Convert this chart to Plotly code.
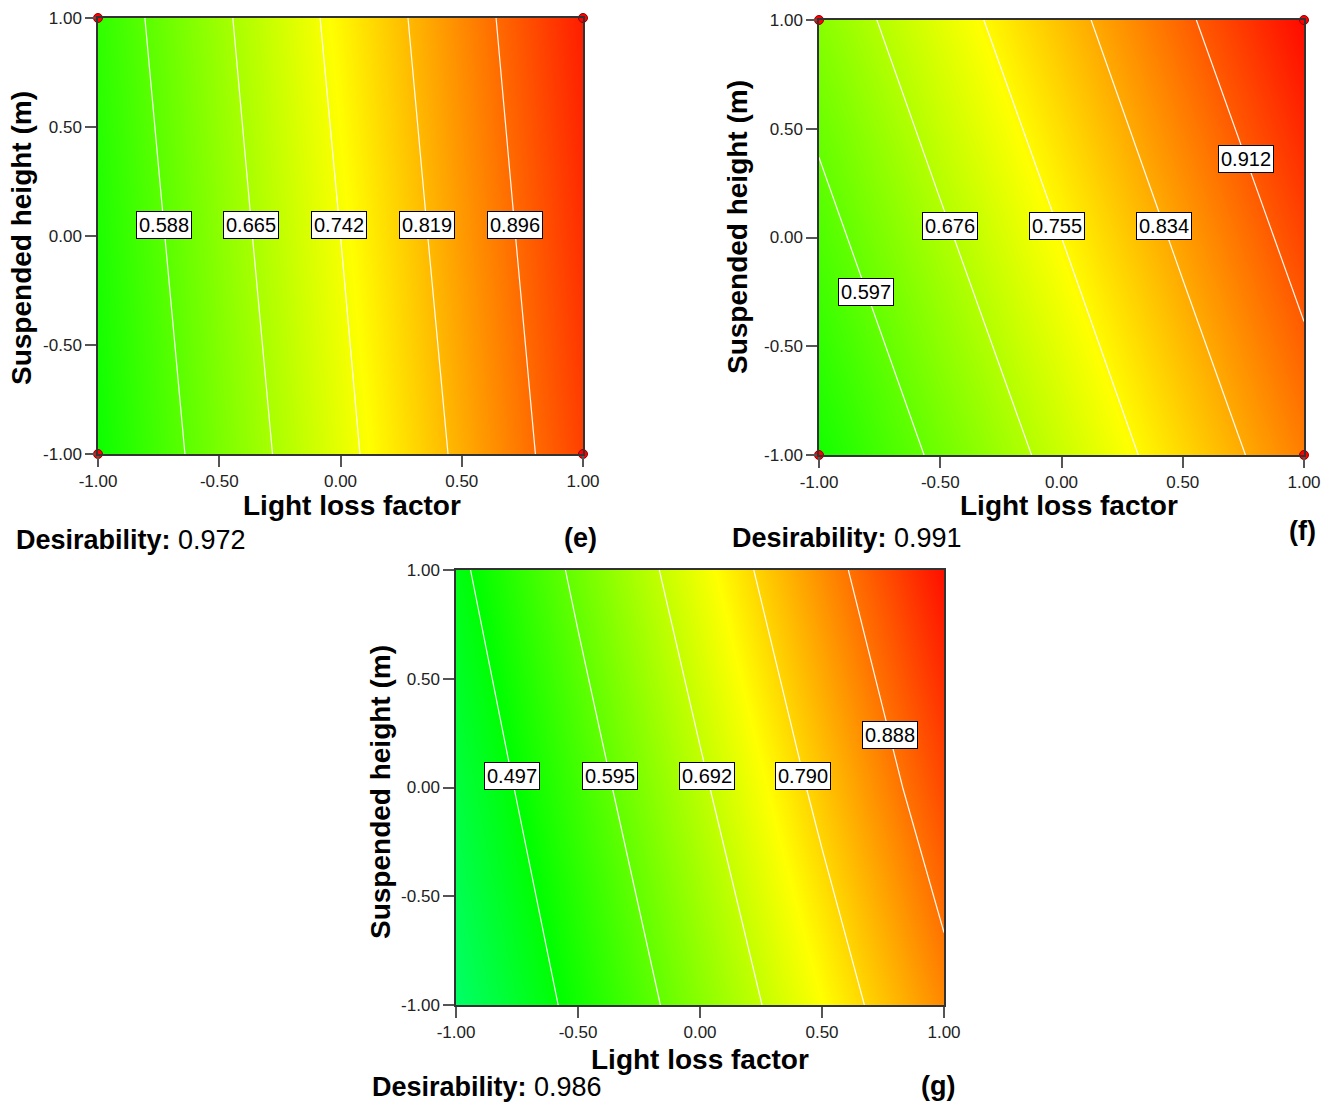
import numpy as np
import plotly.graph_objects as go

W, H = 1332, 1104

# ---------------- data ----------------
x_grid = [-1.0, -0.5, 0.0, 0.5, 1.0]          # Light loss factor (coded)
y_grid = [-1.0, 0.0, 1.0]                     # Suspended height (coded)
tick_vals = [-1.0, -0.5, 0.0, 0.5, 1.0]
tick_text = ["-1.00", "-0.50", "0.00", "0.50", "1.00"]

# desirability values on the grid (rows = y_grid, cols = x_grid)
z_e = [[0.512, 0.618, 0.725, 0.831, 0.938],
       [0.529, 0.636, 0.742, 0.849, 0.955],
       [0.547, 0.653, 0.760, 0.866, 0.972]]
z_f = [[0.519, 0.609, 0.698, 0.788, 0.877],
       [0.576, 0.666, 0.755, 0.845, 0.934],
       [0.633, 0.723, 0.812, 0.902, 0.991]]
z_g = [[0.399, 0.516, 0.633, 0.749, 0.867],
       [0.439, 0.561, 0.682, 0.806, 0.930],
       [0.482, 0.608, 0.734, 0.861, 0.986]]

levels_e = [0.588, 0.665, 0.742, 0.819, 0.896]
levels_f = [0.597, 0.676, 0.755, 0.834, 0.912]
levels_g = [0.497, 0.595, 0.692, 0.790, 0.888]

desirability_e = 0.972
desirability_f = 0.991
desirability_g = 0.986

design_x = [-1.0, 1.0, -1.0, 1.0]
design_y = [-1.0, -1.0, 1.0, 1.0]

panel_names = ["(e)", "(f)", "(g)"]

# ---------------- layout spec (pixel boxes) ----------------
FONT = "Arial, 'Liberation Sans', sans-serif"
colorscale = [[0.0, "#0000ff"], [0.25, "#00ffff"], [0.5, "#00ff00"],
              [0.75, "#ffff00"], [1.0, "#ff0000"]]

panels = [
    dict(z=z_e, levels=levels_e, des=desirability_e, name=panel_names[0],
         box=(98, 18, 583, 454), label_y=[0.05, 0.05, 0.05, 0.05, 0.05],
         design=True, xt=(352, 506), yt=(22, 238), dt=(14, 540), pt=(580, 538)),
    dict(z=z_f, levels=levels_f, des=desirability_f, name=panel_names[1],
         box=(819, 20, 1304, 455), label_y=[-0.25, 0.055, 0.055, 0.055, 0.36],
         design=True, xt=(1069, 506), yt=(738, 227), dt=(730, 538), pt=(1302, 531)),
    dict(z=z_g, levels=levels_g, des=desirability_g, name=panel_names[2],
         box=(456, 570, 944, 1005), label_y=[0.055, 0.055, 0.055, 0.055, 0.24],
         design=False, xt=(700, 1059), yt=(380, 792), dt=(370, 1087), pt=(938, 1086)),
]


def px(x):
    return x / W


def py(y):
    return 1 - y / H


fig = go.Figure()
annotations = []
layout_axes = {}

for i, p in enumerate(panels, start=1):
    xa = "x" if i == 1 else f"x{i}"
    ya = "y" if i == 1 else f"y{i}"
    z = np.array(p["z"])

    fig.add_trace(go.Heatmap(
        x=x_grid, y=y_grid, z=z, zsmooth="best", colorscale=colorscale,
        zmin=0, zmax=1, showscale=False, hoverinfo="skip", xaxis=xa, yaxis=ya))

    for lvl in p["levels"]:
        fig.add_trace(go.Contour(
            x=x_grid, y=y_grid, z=z, autocontour=False,
            contours=dict(coloring="none", start=lvl, end=lvl + 0.0005, size=0.01,
                          showlabels=False),
            line=dict(color="rgba(255,255,255,0.95)", width=1.2, smoothing=0),
            showscale=False, hoverinfo="skip", xaxis=xa, yaxis=ya))

    if p["design"]:
        fig.add_trace(go.Scatter(
            x=design_x, y=design_y, mode="markers", cliponaxis=False,
            marker=dict(size=9, color="#ff0000", line=dict(color="#8b0000", width=1)),
            hoverinfo="skip", showlegend=False, xaxis=xa, yaxis=ya))

    # contour labels placed where each level crosses its label height
    for lvl, ly in zip(p["levels"], p["label_y"]):
        row = [np.interp(ly, y_grid, z[:, c]) for c in range(len(x_grid))]
        lx = float(np.interp(lvl, row, x_grid))
        annotations.append(dict(
            x=lx, y=ly, xref=xa, yref=ya, text=f"{lvl:.3f}", showarrow=False,
            font=dict(family=FONT, size=20, color="black"),
            bgcolor="white", bordercolor="black", borderwidth=1, borderpad=2,
            xanchor="center", yanchor="middle"))

    x0, y0, x1, y1 = p["box"]
    axis_common = dict(range=[-1, 1], showgrid=False, zeroline=False, automargin=False,
                       showline=True, mirror=True, linecolor="#333333", linewidth=1.5,
                       ticks="outside", ticklen=11, tickwidth=1.5, tickcolor="#555555",
                       tickvals=tick_vals, ticktext=tick_text,
                       tickfont=dict(family=FONT, size=17, color="#222222"))
    layout_axes["xaxis" if i == 1 else f"xaxis{i}"] = dict(
        axis_common, domain=[px(x0), px(x1)], anchor=ya)
    layout_axes["yaxis" if i == 1 else f"yaxis{i}"] = dict(
        axis_common, domain=[py(y1), py(y0)], anchor=xa)

    bold = dict(family=FONT, size=28, color="black")
    annotations.append(dict(x=px(p["xt"][0]), y=py(p["xt"][1]), xref="paper", yref="paper",
                            text="<b>Light loss factor</b>", showarrow=False, font=bold,
                            xanchor="center", yanchor="middle"))
    annotations.append(dict(x=px(p["yt"][0]), y=py(p["yt"][1]), xref="paper", yref="paper",
                            text="<b>Suspended height (m)</b>", showarrow=False, font=bold,
                            textangle=-90, xanchor="center", yanchor="middle"))
    annotations.append(dict(x=px(p["dt"][0]), y=py(p["dt"][1]), xref="paper", yref="paper",
                            text=f"<b>Desirability:</b> {p['des']:.3f}", showarrow=False,
                            font=dict(family=FONT, size=27, color="black"),
                            xanchor="left", yanchor="middle"))
    annotations.append(dict(x=px(p["pt"][0]), y=py(p["pt"][1]), xref="paper", yref="paper",
                            text=f"<b>{p['name']}</b>", showarrow=False,
                            font=dict(family=FONT, size=27, color="black"),
                            xanchor="center", yanchor="middle"))

fig.update_layout(
    width=W, height=H, margin=dict(l=0, r=0, t=0, b=0, autoexpand=False),
    paper_bgcolor="white", plot_bgcolor="white", showlegend=False,
    annotations=annotations, **layout_axes)

fig.write_html("out.html", config={"displayModeBar": False},
               post_script="document.body.style.margin='0';document.body.style.overflow='hidden';")
